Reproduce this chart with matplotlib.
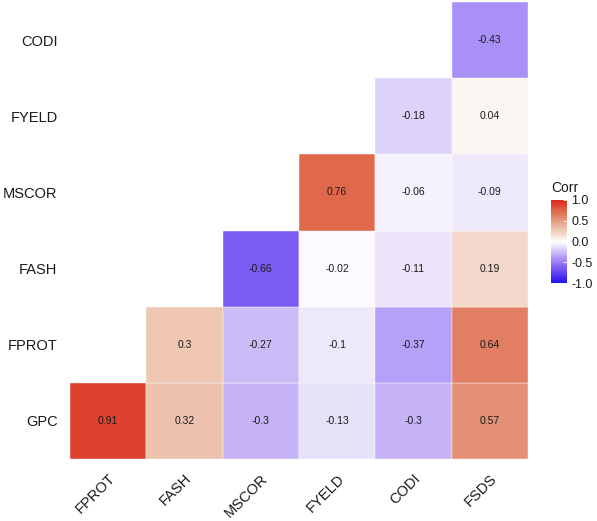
import numpy as np
import matplotlib
matplotlib.use("Agg")
import matplotlib.pyplot as plt
from matplotlib.colors import LinearSegmentedColormap, Normalize
import matplotlib.cm as cm

plt.rcParams['font.family'] = ['Liberation Sans', 'DejaVu Sans']

# Data (lower triangle, rows bottom -> top)
col_names = ["FPROT", "FASH", "MSCOR", "FYELD", "CODI", "FSDS"]
row_names = ["GPC", "FPROT", "FASH", "MSCOR", "FYELD", "CODI"]
gpc_row = [0.91, 0.32, -0.3, -0.13, -0.3, 0.57]
fprot_row = [None, 0.3, -0.27, -0.1, -0.37, 0.64]
fash_row = [None, None, -0.66, -0.02, -0.11, 0.19]
mscor_row = [None, None, None, 0.76, -0.06, -0.09]
fyeld_row = [None, None, None, None, -0.18, 0.04]
codi_row = [None, None, None, None, None, -0.43]
rows = [gpc_row, fprot_row, fash_row, mscor_row, fyeld_row, codi_row]
bar_ticks = [1.0, 0.5, 0.0, -0.5, -1.0]

# Diverging blue - white - red scale, tuned to the reference look
anchors = [(0.0, "#2210F0"), (0.17, "#7858F2"), (0.285, "#A68EF6"),
           (0.35, "#C4B2F8"), (0.435, "#E8E0FA"), (0.5, "#FFFFFF"),
           (0.595, "#F3D6C9"), (0.65, "#EEC4B0"), (0.785, "#E38C70"),
           (0.82, "#E07A5E"), (0.88, "#DF6446"), (0.955, "#DE3C28"),
           (1.0, "#DA2A1C")]
cmap = LinearSegmentedColormap.from_list("corr", anchors)
norm = Normalize(vmin=-1, vmax=1)

fig = plt.figure(figsize=(5.97, 5.21), dpi=100)
ax = fig.add_axes([70 / 597, 62 / 521, 458 / 597, 457 / 521])

for i, row in enumerate(rows):
    for j, val in enumerate(row):
        if val is None:
            continue
        ax.add_patch(plt.Rectangle((j, i), 1, 1, facecolor=cmap(norm(val)),
                                   edgecolor="white", linewidth=0.3, alpha=0.97))
        ax.text(j + 0.5, i + 0.5, "%g" % val, ha="center", va="center",
                fontsize=7.5, color="#1a1a1a")

ax.set_xlim(0, 6)
ax.set_ylim(0, 6)
ax.set_xticks(np.arange(6) + 0.5)
ax.set_yticks(np.arange(6) + 0.5)
ax.set_xticklabels(col_names, rotation=45, ha="right", va="top",
                   rotation_mode="anchor", fontsize=10.5, color="#1a1a1a")
ax.set_yticklabels(row_names, fontsize=10.5, color="#1a1a1a")
ax.tick_params(length=0, pad=9)
for s in ax.spines.values():
    s.set_visible(False)

# Colour bar legend
cax = fig.add_axes([551 / 597, (521 - 283) / 521, 16 / 597, 83 / 521])
cb = fig.colorbar(cm.ScalarMappable(norm=norm, cmap=cmap), cax=cax, ticks=bar_ticks)
cb.outline.set_visible(False)
cb.ax.set_yticklabels(["%.1f" % v for v in bar_ticks], fontsize=9, color="#1a1a1a")
cb.ax.tick_params(length=3, width=0.6, color="white", direction="in", pad=3)
cax.set_title("Corr", fontsize=10, loc="left", pad=6, color="#1a1a1a")

fig.savefig("out.png", dpi=100)
